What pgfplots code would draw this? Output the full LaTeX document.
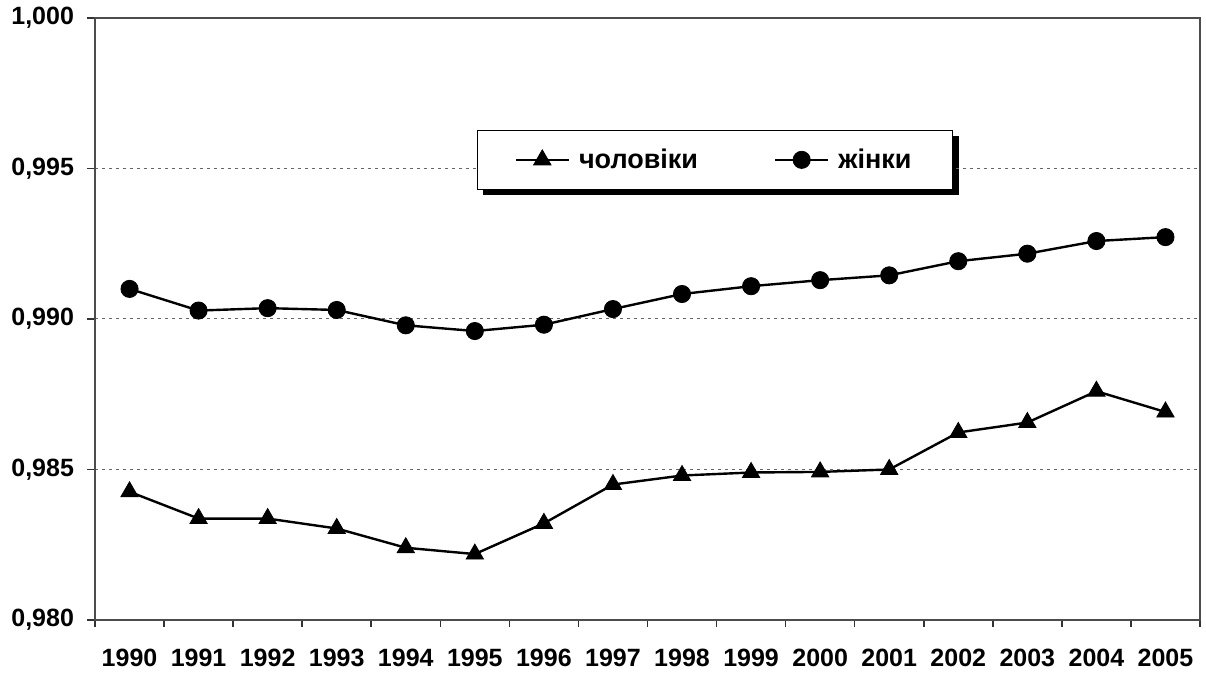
\documentclass[border=0pt]{standalone}
\usepackage{fontspec}
\setmainfont{Liberation Sans}
\usepackage{pgfplots}
\pgfplotsset{compat=1.18}
\pgfdeclarelayer{bg}
\pgfsetlayers{bg,main}
\begin{document}
\begin{tikzpicture}
\useasboundingbox (-47.5pt,-27pt) rectangle (555.5pt,310pt);
\begin{axis}[
  at={(0,0)}, anchor=south west,
  scale only axis, width=552.5pt, height=301pt,
  xmin=-0.5, xmax=15.5, ymin=0.98, ymax=1.0,
  xtick={0,...,15},
  xticklabels={1990,1991,1992,1993,1994,1995,1996,1997,1998,1999,2000,2001,2002,2003,2004,2005},
  minor xtick={-0.5,0.5,...,15.5},
  major x tick style={draw=none},
  ytick={0.98,0.985,0.99,0.995,1},
  tick align=outside,
  major tick length=4pt, minor tick length=3.5pt,
  tick style={black!80, line width=0.8pt},
  xtick pos=bottom, ytick pos=left,
  ymajorgrids,
  grid style={black!60, line width=0.5pt, dash pattern=on 1.5pt off 2pt},
  axis line style={black!70, line width=1pt},
  yticklabel style={/pgf/number format/.cd, fixed, fixed zerofill, precision=3, use comma, /pgf/number format/assume math mode=true, /tikz/.cd, xshift=-3pt},
  ticklabel style={font=\bfseries\fontsize{12.5}{14}\selectfont},
  xticklabel style={yshift=-7pt},
  /pgf/number format/assume math mode=true,
  legend style={name=leg, at={(0.3457,0.814)}, anchor=north west, legend columns=2,
    draw=black, line width=0.6pt, fill=white,
    inner xsep=18.5pt, inner ysep=7pt,
    font=\bfseries\fontsize{13.5}{15}\selectfont,
    /tikz/every odd column/.append style={column sep=2.5pt},
    /tikz/every even column/.append style={column sep=36pt}},
  legend image code/.code={\draw[mark repeat=2,mark phase=2,#1] plot coordinates {(0pt,0pt) (13.25pt,0pt) (26.5pt,0pt)};},
]
\addplot[black, line width=1.2pt, mark=triangle*, mark size=5pt, mark options={solid, fill=black, line width=0.4pt}] coordinates {
(0,0.98426) (1,0.98337) (2,0.98337) (3,0.98304) (4,0.98240) (5,0.98219) (6,0.98321) (7,0.98450)
(8,0.98480) (9,0.98490) (10,0.98492) (11,0.98500) (12,0.98623) (13,0.98656) (14,0.98760) (15,0.98691)};
\addlegendentry{чоловіки}
\addplot[black, line width=1.2pt, mark=*, mark size=4.3pt, mark options={solid, fill=black, line width=0.4pt}] coordinates {
(0,0.99100) (1,0.99028) (2,0.99036) (3,0.99030) (4,0.98979) (5,0.98960) (6,0.98981) (7,0.99033)
(8,0.99083) (9,0.99109) (10,0.99129) (11,0.99145) (12,0.99192) (13,0.99217) (14,0.99259) (15,0.99272)};
\addlegendentry{жінки}
\end{axis}
\begin{pgfonlayer}{bg}
\fill[black] ([shift={(2.8pt,-2.8pt)}]leg.south west) rectangle ([shift={(2.8pt,-2.8pt)}]leg.north east);
\end{pgfonlayer}
\end{tikzpicture}
\end{document}
